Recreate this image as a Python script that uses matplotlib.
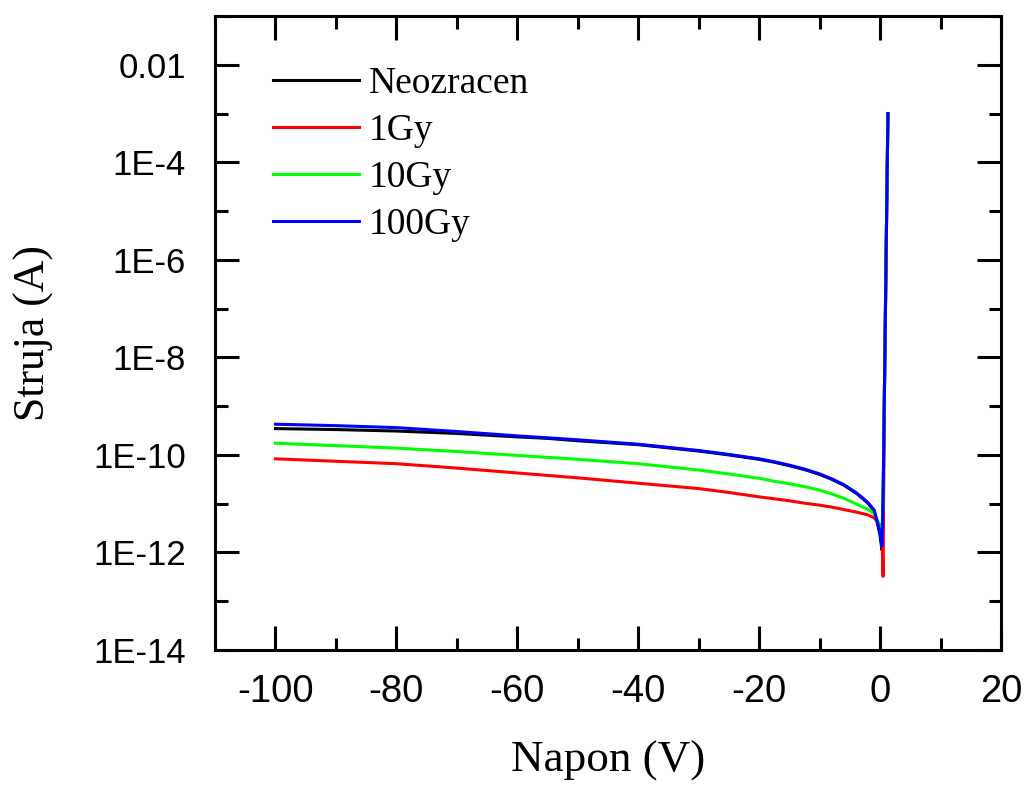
import matplotlib
matplotlib.use("Agg")
import matplotlib.pyplot as plt
from matplotlib.ticker import FixedLocator, FixedFormatter, MultipleLocator
import numpy as np

# napon (V) - common grid for all four measurements
napon = [-100, -90, -80, -70, -60, -55, -50, -40, -30, -25, -20, -17.5, -15, -12.5, -10,
         -8, -6, -4, -3, -2, -1, -0.5, 0, 0.3, 0.5, 0.7, 0.9, 1.1, 1.3]

# log10 of current (A)
log_neozracen = [-9.46, -9.48, -9.51, -9.56, -9.63, -9.66, -9.71, -9.79, -9.92, -10.00, -10.09,
                 -10.15, -10.22, -10.30, -10.40, -10.50, -10.62, -10.78, -10.88, -10.99, -11.14,
                 -11.37, -11.65, -11.95, -10.9, -8.9, -6.9, -4.9, -3.0]
log_1gy = [-10.08, -10.13, -10.18, -10.27, -10.37, -10.42, -10.47, -10.58, -10.69, -10.77, -10.86,
           -10.90, -10.94, -10.99, -11.03, -11.07, -11.12, -11.17, -11.20, -11.23, -11.29,
           -11.36, -11.45, -11.6, -12.49, -8.9, -6.9, -4.9, -3.0]
log_10gy = [-9.76, -9.81, -9.86, -9.93, -10.01, -10.05, -10.09, -10.18, -10.31, -10.39, -10.48,
            -10.54, -10.59, -10.65, -10.72, -10.80, -10.89, -11.00, -11.06, -11.12, -11.20,
            -11.33, -11.45, -11.67, -10.9, -8.9, -6.9, -4.9, -3.0]
log_100gy = [-9.37, -9.40, -9.44, -9.52, -9.61, -9.65, -9.69, -9.78, -9.91, -9.99, -10.08,
             -10.14, -10.21, -10.29, -10.39, -10.49, -10.61, -10.77, -10.87, -10.98, -11.13,
             -11.35, -11.60, -11.87, -10.9, -8.9, -6.9, -4.9, -3.0]

series = [
    ("Neozracen", log_neozracen, "black"),
    ("1Gy", log_1gy, "#ff0000"),
    ("10Gy", log_10gy, "#00ff00"),
    ("100Gy", log_100gy, "#0000ff"),
]

plt.rcParams["axes.unicode_minus"] = False

fig = plt.figure(figsize=(10.24, 7.86), dpi=100)
ax = fig.add_axes([215 / 1024, 1 - 650 / 786, 786 / 1024, 634 / 786])

for name, vals, col in series:
    ax.plot(napon, 10 ** np.array(vals), color=col, lw=2.2, label=name)

ax.set_yscale("log")
ax.set_xlim(-110, 20)
ax.set_ylim(1e-14, 1e-1)

ytick_vals = [1e-14, 1e-12, 1e-10, 1e-8, 1e-6, 1e-4, 1e-2]
ytick_text = ["1E-14", "1E-12", "1E-10", "1E-8", "1E-6", "1E-4", "0.01"]
ax.yaxis.set_major_locator(FixedLocator(ytick_vals))
ax.yaxis.set_major_formatter(FixedFormatter(ytick_text))
ax.yaxis.set_minor_locator(FixedLocator([1e-13, 1e-11, 1e-9, 1e-7, 1e-5, 1e-3, 1e-1]))
ax.yaxis.set_minor_formatter(FixedFormatter([]))

ax.xaxis.set_major_locator(MultipleLocator(20))
ax.xaxis.set_minor_locator(MultipleLocator(10))

ax.tick_params(which="both", direction="in", top=True, right=True, width=2.2)
ax.tick_params(which="major", length=17)
ax.tick_params(which="minor", length=9)
ax.tick_params(axis="y", which="major", pad=21)
ax.tick_params(axis="x", which="major", pad=17)
for lab in ax.get_yticklabels():
    lab.set_fontfamily("Liberation Sans")
    lab.set_fontsize(25)
for lab in ax.get_xticklabels():
    lab.set_fontfamily("Liberation Sans")
    lab.set_fontsize(27.5)
for sp in ax.spines.values():
    sp.set_linewidth(2.2)

ax.set_xlabel("Napon (V)", family="Liberation Serif", fontsize=32.5, labelpad=22)
ax.set_ylabel("Struja (A)", family="Liberation Serif", fontsize=31.5, labelpad=28)

ax.legend(loc="upper left", bbox_to_anchor=(0.074, 0.920), frameon=False,
          prop={"family": "Liberation Serif", "size": 27},
          handlelength=2.3, handletextpad=0.25, labelspacing=0.33,
          borderpad=0, borderaxespad=0)

fig.savefig("out.png", dpi=100)
